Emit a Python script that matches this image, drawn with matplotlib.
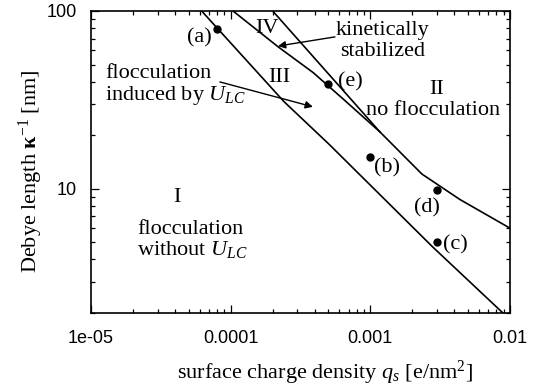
import numpy as np
import matplotlib
matplotlib.use("Agg")
import matplotlib.pyplot as plt
from matplotlib.ticker import LogLocator, FixedLocator, FixedFormatter, NullFormatter

plt.rcParams['font.family'] = 'Liberation Serif'
plt.rcParams['mathtext.fontset'] = 'custom'
plt.rcParams['mathtext.rm'] = 'Liberation Serif'
plt.rcParams['mathtext.it'] = 'Liberation Serif:italic'
plt.rcParams['mathtext.bf'] = 'Liberation Serif:bold'

# boundary between I and III
q_low = [6.2e-5, 2.4e-4, 5.1e-4, 2.8e-3, 8.9e-3]
k_low = [100, 31, 17.7, 4.7, 2.0]

# boundary between III and IV, merging into the II boundary
q_mid = [1.04e-4, 2.18e-4, 3.9e-4, 6.5e-4, 1.17e-3, 2.34e-3, 4.38e-3, 1e-2]
k_mid = [100, 63, 45, 31.6, 20.9, 12.1, 8.7, 6.0]

# boundary between IV and II
q_up = [2.0e-4, 1.17e-3]
k_up = [100, 20.9]

# simulated states
pt_names = ['(a)', '(b)', '(c)', '(d)', '(e)']
pt_q = [8e-5, 1e-3, 3e-3, 3e-3, 5e-4]
pt_k = [79, 15, 5.0, 9.8, 39]
# where each state's label sits
lab_q = [5.93e-5, 1.32e-3, 4.04e-3, 2.54e-3, 7.14e-4]
lab_k = [66.1, 12.3, 4.54, 7.33, 37.4]

xticks = [1e-5, 1e-4, 1e-3, 1e-2]
xtick_labels = ['1e-05', '0.0001', '0.001', '0.01']
yticks = [10, 100]
ytick_labels = ['10', '100']

fig = plt.figure(figsize=(5.4, 3.92), dpi=100)
ax = fig.add_axes([91/540, 1-313/392, 419/540, 302/392])

ax.plot(q_low, k_low, color='black', lw=1.2)
ax.plot(q_mid, k_mid, color='black', lw=1.2)
ax.plot(q_up, k_up, color='black', lw=1.2)
ax.plot(pt_q, pt_k, 'o', color='black', ms=5)

ax.set_xscale('log')
ax.set_yscale('log')
ax.set_xlim(1e-5, 1e-2)
ax.set_ylim(2, 100)

ax.xaxis.set_major_locator(FixedLocator(xticks))
ax.xaxis.set_major_formatter(FixedFormatter(xtick_labels))
ax.yaxis.set_major_locator(FixedLocator(yticks))
ax.yaxis.set_major_formatter(FixedFormatter(ytick_labels))
ax.xaxis.set_minor_locator(LogLocator(base=10, subs=np.arange(2, 10), numticks=20))
ax.yaxis.set_minor_locator(LogLocator(base=10, subs=np.arange(2, 10), numticks=20))
ax.xaxis.set_minor_formatter(NullFormatter())
ax.yaxis.set_minor_formatter(NullFormatter())

ax.tick_params(which='both', direction='in', top=True, right=True, width=0.9)
ax.tick_params(which='major', length=6)
ax.tick_params(which='minor', length=3)
ax.tick_params(axis='x', pad=12)
ax.tick_params(axis='y', pad=10)
for lab in ax.get_xticklabels() + ax.get_yticklabels():
    lab.set_fontfamily('Liberation Sans')
    lab.set_fontsize(13)
for s in ax.spines.values():
    s.set_linewidth(1.2)

fs = 16
ax.set_xlabel(r'surface charge density $q_s$ [e/nm$^2$]', fontsize=fs)
ax.set_ylabel(r'Debye length $\mathbf{\kappa}^{-1}$ [nm]', fontsize=fs)
ax.xaxis.set_label_coords(0.5585, -0.152)
ax.yaxis.set_label_coords(-0.11, 0.47)

# point labels
for name, q, k in zip(pt_names, lab_q, lab_k):
    ax.text(q, k, name, fontsize=fs, ha='center', va='baseline')

# region labels
ax.text(1.82e-4, 75.2, 'IV', fontsize=fs, ha='center', va='baseline')
ax.text(2.22e-4, 39.9, 'III', fontsize=fs, ha='center', va='baseline')
ax.text(3.0e-3, 34.0, 'II', fontsize=fs, ha='center', va='baseline')
ax.text(2.81e-3, 26.0, 'no flocculation', fontsize=fs, ha='center', va='baseline')
ax.text(4.13e-5, 8.45, 'I', fontsize=fs, ha='center', va='baseline')
ax.text(2.13e-5, 5.59, 'flocculation', fontsize=fs, ha='left', va='baseline')
ax.text(2.13e-5, 4.26, r'without $U_{LC}$', fontsize=fs, ha='left', va='baseline')
ax.text(1.23e-3, 73.3, 'kinetically', fontsize=fs, ha='center', va='baseline')
ax.text(1.23e-3, 55.9, 'stabilized', fontsize=fs, ha='center', va='baseline')
ax.text(1.26e-5, 42.0, 'flocculation', fontsize=fs, ha='left', va='baseline')
ax.text(1.26e-5, 31.6, r'induced by $U_{LC}$', fontsize=fs, ha='left', va='baseline')

arrow = dict(arrowstyle='-|>', color='black', lw=1.0, mutation_scale=11, shrinkA=0, shrinkB=0)
ax.annotate('', xy=(2.18e-4, 63.5), xytext=(5.58e-4, 71.5), arrowprops=arrow)
ax.annotate('', xy=(3.88e-4, 28.9), xytext=(8.37e-5, 39.9), arrowprops=arrow)

fig.savefig('out.png', dpi=100)
